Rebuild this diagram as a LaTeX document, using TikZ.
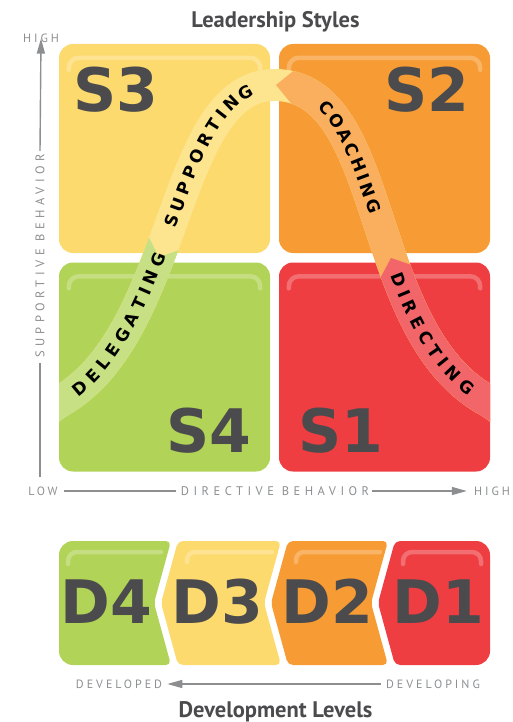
\documentclass[tikz,border=0pt]{standalone}
\usepackage{fontspec}
\setmainfont{DejaVu Sans}
\newfontfamily\headfont{PT Sans}
\newfontfamily\axisfont[LetterSpace=25]{PT Sans}
\newfontfamily\titlefont[LetterSpace=36]{PT Sans}
\newfontfamily\bandfont{DejaVu Sans}
\usepackage{xcolor}
\usepackage{tikz}
\usetikzlibrary{arrows.meta, positioning, decorations.text}

\definecolor{sgreen}{HTML}{B1D357}
\definecolor{syellow}{HTML}{FDDA6E}
\definecolor{sorange}{HTML}{F79B34}
\definecolor{sred}{HTML}{EE3E42}
\definecolor{bgreen}{HTML}{C6E083}
\definecolor{byellow}{HTML}{FDE48F}
\definecolor{borange}{HTML}{F9AF5E}
\definecolor{bred}{HTML}{F26569}
\definecolor{darktext}{HTML}{4B4B4D}
\definecolor{axisgray}{HTML}{8C8E90}

\begin{document}
\begin{tikzpicture}[x=1pt, y=-1pt, >=latex]
	\tikzstyle{quad} = [draw=none, rectangle, rounded corners=14pt, minimum width=211pt, minimum height=209pt, inner sep=0pt]
	\tikzstyle{biglabel} = [text=darktext, font=\bfseries\fontsize{60}{60}\selectfont, inner sep=0pt, anchor=base]
	\tikzstyle{gloss} = [draw=white, draw opacity=0.25, line width=4.5pt, line cap=round]
	\tikzstyle{band} = [line width=32pt]
	\tikzstyle{axis} = [draw=axisgray, line width=1.4pt]
	\tikzstyle{axistip} = [-{Triangle[length=15pt, width=8pt]}]
	\tikzstyle{endlabel} = [text=axisgray, font=\axisfont\fontsize{12}{12}\selectfont, inner sep=0pt]
	\tikzstyle{axislabel} = [text=axisgray, font=\titlefont\fontsize{12.5}{12.5}\selectfont, inner sep=0pt]
	\tikzstyle{heading} = [text=darktext, font=\headfont\bfseries\fontsize{22.5}{22.5}\selectfont, inner sep=0pt, anchor=base]
	\tikzstyle{bandtext} = [decorate, decoration={text along path, raise=-6.2pt, text color=black}]
	\def\bandpath{(38.6,416.5) -- (59,402) .. controls (180,335) and (170,85) .. (274.5,85) .. controls (390,85) and (362,335) .. (490,402) -- (510.4,416.5)}
	\def\bandfmt{|\bandfont\bfseries\fontsize{17}{17}\selectfont|}

	\useasboundingbox (0,0) rectangle (512,722);

	% quadrants
	\node[quad, fill=syellow] 	(sthree) 	at (164.5,148.5) 	{};
	\node[quad, fill=sorange] 	(stwo) 		at (384.5,148.5) 	{};
	\node[quad, fill=sgreen] 	(sfour) 	at (164.5,367) 		{};
	\node[quad, fill=sred] 		(sone) 		at (384.5,367) 		{};
	\foreach \q in {sthree, stwo, sfour, sone}
		\draw[gloss] ([xshift=10pt, yshift=-26pt]\q.north west) [rounded corners=10pt] |- ([xshift=-10pt, yshift=-14pt]\q.north east) -- ([xshift=-10pt, yshift=-26pt]\q.north east);

	\node[biglabel] (lthree) 	at (116,112) 	{S3};
	\node[biglabel] (ltwo) 		at (427,112) 	{S2};
	\node[biglabel] (lfour) 	at (208.5,452) 	{S4};
	\node[biglabel] (lone) 		at (341,452) 	{S1};

	% the curved band
	\begin{scope}
		\clip (59,0) rectangle (490,722);
		\draw[band, byellow] \bandpath;
		\begin{scope}
			\clip (0,722) -- (0,226) -- (143,226) -- (159,257) -- (191,246) -- (270,246) -- (270,722) -- cycle;
			\draw[band, bgreen] \bandpath;
		\end{scope}
		\begin{scope}
			\clip (276,85) -- (318,51) -- (330,0) -- (512,0) -- (512,722) -- (300,722) -- (304,119) -- cycle;
			\draw[band, borange] \bandpath;
		\end{scope}
		\begin{scope}
			\clip (391,258) -- (423,269) -- (512,269) -- (512,722) -- (300,722) -- (300,290) -- (374,290) -- cycle;
			\draw[band, bred] \bandpath;
		\end{scope}
	\end{scope}
	\path[bandtext, decoration={text={\bandfmt DELEGATING}, text align={fit to path, left indent=43pt, right indent=642pt}}] \bandpath;
	\path[bandtext, decoration={text={\bandfmt SUPPORTING}, text align={fit to path, left indent=237pt, right indent=450pt}}] \bandpath;
	\path[bandtext, decoration={text={\bandfmt COACHING}, text align={fit to path, left indent=476pt, right indent=252pt}}] \bandpath;
	\path[bandtext, decoration={text={\bandfmt DIRECTING}, text align={fit to path, left indent=663pt, right indent=46pt}}] \bandpath;

	% axes
	\node[heading] 	(lstyles) 	at (275.5,28) 	{Leadership Styles};
	\node[endlabel] (yhigh) 	at (41,38) 		{HIGH};
	\node[axislabel, rotate=90] (ylabel) at (40,256) {SUPPORTIVE BEHAVIOR};
	\coordinate 	(yorig) 	at (40,477);
	\node[endlabel] (xlow) 		at (43,491) 	{LOW};
	\node[axislabel] (xlabel) 	at (275,491) 	{DIRECTIVE BEHAVIOR};
	\node[endlabel] (xhigh) 	at (492,491) 	{HIGH};

	\draw[axis] (yorig) -- ([yshift=-5pt]ylabel.west);
	\draw[axis, axistip] ([yshift=3pt]ylabel.east) -- ([yshift=4pt]yhigh.south);
	\draw[axis] ([xshift=6pt]xlow.east) -- ([xshift=-5pt]xlabel.west);
	\draw[axis, axistip] ([xshift=3pt]xlabel.east) -- ([xshift=-7pt]xhigh.west);

	% development levels
	\begin{scope}
		\clip[rounded corners=14pt] (59,541) rectangle (490,665);
		\fill[sgreen, rounded corners=5pt] (40,541) -- (171,541) -- (154,603) -- (171,665) -- (40,665) -- cycle;
		\fill[syellow, rounded corners=5pt] (178,541) -- (281,541) -- (264,603) -- (281,665) -- (178,665) -- (161,603) -- cycle;
		\fill[sorange, rounded corners=5pt] (288,541) -- (388,541) -- (371,603) -- (388,665) -- (288,665) -- (271,603) -- cycle;
		\fill[sred, rounded corners=5pt] (395,541) -- (510,541) -- (510,665) -- (395,665) -- (378,603) -- cycle;
	\end{scope}
	\draw[gloss] (68,564) [rounded corners=9pt] |- (161,552);
	\draw[gloss] (187,562) [rounded corners=8pt] |- (272,552);
	\draw[gloss] (296,562) [rounded corners=8pt] |- (380,552);
	\draw[gloss] (403,564) [rounded corners=9pt] |- (481,552) -- (481,564);

	\node[biglabel] (dfour) 	at (106.5,623) 	{D4};
	\node[biglabel] (dthree) 	at (217,623) 	{D3};
	\node[biglabel] (dtwo) 		at (327.5,623) 	{D2};
	\node[biglabel] (done) 		at (438.5,623) 	{D1};

	\node[endlabel] (developed) 	at (119,684) 	{DEVELOPED};
	\node[endlabel] (developing) 	at (433,684) 	{DEVELOPING};
	\draw[axis, axistip] ([xshift=-5pt]developing.west) -- ([xshift=5pt]developed.east);
	\node[heading] 	(llevels) 	at (275.5,717) 	{Development Levels};
\end{tikzpicture}
\end{document}
